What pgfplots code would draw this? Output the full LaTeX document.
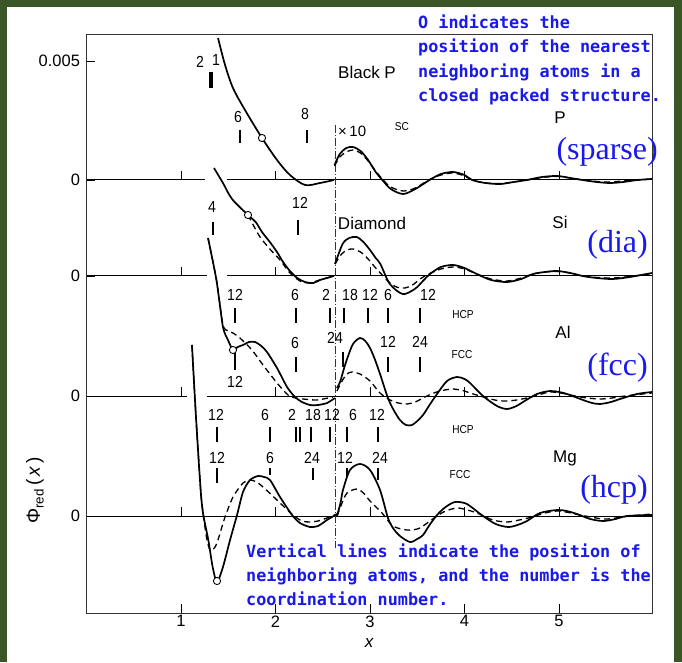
\documentclass[border=0pt]{standalone}
\usepackage{fontspec}
\setmainfont{Liberation Sans}
\newfontfamily\monof{DejaVu Sans Mono}
\newfontfamily\seriff{Liberation Serif}
\newfontfamily\labf[FakeStretch=0.88]{Liberation Sans}
\usepackage{pgfplots}
\pgfplotsset{compat=1.18}
\definecolor{frameg}{RGB}{58,86,38}
\definecolor{ann}{RGB}{25,25,235}
\newcommand{\nf}{\labf\fontsize{16}{16}\selectfont}
\begin{document}
\begin{tikzpicture}
\fill[frameg] (0pt,0pt) rectangle (682pt,662pt);
\fill[white] (7pt,0pt) rectangle (674pt,655pt);
\useasboundingbox (0pt,0pt) rectangle (682pt,662pt);
\begin{axis}[
  at={(86.5pt,49pt)}, anchor=south west,
  scale only axis, width=565.5pt, height=579pt,
  xmin=0, xmax=5.984, ymin=49, ymax=628,
  clip=false,
  axis line style={line width=0.9pt, black!80},
  xtick={1,2,3,4,5}, xticklabels={1,2,3,4,5},
  ytick={146,266,386,482,601}, yticklabels={0,0,0,0,0.005},
  xtick pos=bottom, ytick pos=left,
  tick align=inside, major tick length=9pt,
  tick style={line width=0.9pt, black},
  ticklabel style={font=\fontsize{16.5}{16.5}\selectfont},
  xticklabel style={yshift=1pt},
  yticklabel style={xshift=-3pt},
  xlabel={\textit{x}}, xlabel style={font=\fontsize{17}{17}\selectfont, yshift=-4pt},
  ylabel={Φ\textsubscript{red}\,(\,\textit{x}\,)},
  ylabel style={at={(axis description cs:-0.091,0.212)}, anchor=center, font=\fontsize{19}{19}\selectfont},
  unbounded coords=jump,
]
% baselines
\addplot[black, line width=1pt] coordinates {(0,482) (1.254,482) (1.3,nan) (1.487,482) (5.984,482)};
\addplot[black, line width=1pt] coordinates {(0,386) (1.275,386) (1.3,nan) (1.487,386) (5.984,386)};
\addplot[black, line width=1pt] coordinates {(0,266) (1.063,266) (1.1,nan) (1.275,266) (5.984,266)};
\addplot[black, line width=1pt] coordinates {(0,146) (5.984,146)};
% baseline ticks
\addplot[black, line width=0.8pt] coordinates {
(1,482) (1,491) (1,nan) (2,482) (2,491) (2,nan) (3,482) (3,491) (3,nan) (4,482) (4,491) (4,nan) (5,482) (5,491) (5,nan)
(1,386) (1,395) (1,nan) (2,386) (2,395) (2,nan) (3,386) (3,395) (3,nan) (4,386) (4,395) (4,nan) (5,386) (5,395) (5,nan)
(1,266) (1,275) (1,nan) (2,266) (2,275) (2,nan) (3,266) (3,275) (3,nan) (4,266) (4,275) (4,nan) (5,266) (5,275) (5,nan)
(1,146) (1,155) (1,nan) (2,146) (2,155) (2,nan) (3,146) (3,155) (3,nan) (4,146) (4,155) (4,nan) (5,146) (5,155)};
% x10 boundary
\addplot[black!80, line width=0.6pt, dash pattern=on 8pt off 2pt on 1pt off 2pt] coordinates {(2.63,537) (2.63,114)};
% ---- P ----
\addplot[black, line width=1.7pt, smooth, tension=0.5] coordinates {
(1.392,624) (1.466,597) (1.550,574) (1.677,552) (1.857,524) (2.016,502) (2.153,487) (2.312,477) (2.471,479) (2.619,482)};
\addplot[black, line width=1.7pt, smooth, tension=0.5] coordinates {
(2.625,497) (2.68,508) (2.75,514) (2.82,515) (2.90,511) (2.98,502) (3.06,490) (3.13,482) (3.22,473) (3.35,468) (3.48,473) (3.63,482) (3.75,488) (3.88,490) (4.00,487) (4.08,482) (4.22,479) (4.38,478) (4.52,480) (4.66,482) (4.82,485) (4.98,486) (5.12,484) (5.25,482) (5.40,480) (5.54,479) (5.68,480) (5.83,482) (5.984,483)};
\addplot[black, line width=1.3pt, smooth, tension=0.5, dash pattern=on 6pt off 4pt] coordinates {
(2.625,496) (2.68,505) (2.75,510) (2.82,512) (2.90,509) (2.98,501) (3.06,491) (3.14,482) (3.22,475) (3.35,471) (3.48,474) (3.62,482) (3.75,487) (3.88,489) (4.00,486) (4.08,482) (4.22,479) (4.38,478.5) (4.52,480) (4.66,482) (4.82,484.5) (4.98,485.5) (5.12,484) (5.25,482) (5.40,480.5) (5.54,480) (5.68,481) (5.83,482) (5.984,483)};
% ---- Si ----
\addplot[black, line width=1.7pt, smooth, tension=0.5] coordinates {
(1.349,494) (1.444,479) (1.540,463) (1.709,447) (1.79,440) (1.857,430) (1.94,420) (2.016,410) (2.08,400) (2.153,391) (2.23,384) (2.312,380) (2.40,379) (2.471,382) (2.619,386)};
\addplot[black, line width=1.3pt, smooth, tension=0.5, dash pattern=on 6pt off 4pt] coordinates {
(1.709,447) (1.77,436) (1.836,425) (1.94,413) (2.048,402) (2.153,389) (2.26,381) (2.35,379) (2.47,382) (2.619,386)};
\addplot[black, line width=1.7pt, smooth, tension=0.5] coordinates {
(2.63,398) (2.71,418) (2.78,424) (2.86,425) (2.93,420) (3.00,412) (3.06,404) (3.11,398) (3.19,381) (3.25,374) (3.32,369) (3.37,368) (3.44,371) (3.50,375) (3.57,382) (3.635,388) (3.75,395) (3.88,397) (4.00,394) (4.13,388) (4.28,382) (4.45,380) (4.60,383) (4.725,388) (4.85,390) (4.98,391) (5.12,389) (5.25,386) (5.40,384) (5.57,383) (5.75,385) (5.984,389)};
\addplot[black, line width=1.3pt, smooth, tension=0.5, dash pattern=on 6pt off 4pt] coordinates {
(2.63,398) (2.70,408) (2.76,412) (2.82,413) (2.90,410) (2.98,403) (3.06,394) (3.13,387) (3.20,380) (3.28,375) (3.37,374) (3.45,377) (3.53,383) (3.62,388) (3.75,393) (3.88,395) (4.00,393) (4.13,388) (4.28,383) (4.45,381) (4.60,384) (4.725,388) (4.85,390) (4.98,390.5) (5.12,389) (5.25,386) (5.40,384.5) (5.57,384) (5.75,385.5) (5.984,388.5)};
% ---- Al ----
\addplot[black, line width=1.7pt, smooth, tension=0.4] coordinates {
(1.286,424) (1.375,382) (1.444,335) (1.497,322) (1.550,312) (1.60,315) (1.656,317) (1.72,320) (1.783,320) (1.850,316) (1.910,310) (2.016,294) (2.122,275) (2.206,265) (2.280,260) (2.365,257) (2.450,257) (2.545,259) (2.630,264)};
\addplot[black, line width=1.3pt, smooth, tension=0.4, dash pattern=on 6pt off 4pt] coordinates {
(1.286,424) (1.375,382) (1.444,337) (1.50,331) (1.55,329) (1.624,324) (1.751,312) (1.868,297) (2.016,279) (2.132,267) (2.211,264) (2.291,263) (2.439,262) (2.608,265)};
\addplot[black, line width=1.7pt, smooth, tension=0.5] coordinates {
(2.650,274) (2.683,280) (2.720,292) (2.757,303) (2.820,318) (2.894,324) (2.95,321) (3.0,314) (3.05,303) (3.106,288) (3.190,264) (3.25,252) (3.317,242) (3.380,237) (3.444,237) (3.50,241) (3.561,247) (3.63,257) (3.709,268) (3.815,281) (3.921,285) (4.0,283) (4.058,279) (4.196,266) (4.344,256) (4.450,253) (4.55,256) (4.619,260) (4.767,268) (4.905,271) (5.0,270) (5.085,268) (5.254,262) (5.35,259) (5.434,258) (5.55,260) (5.646,263) (5.825,268) (5.984,270)};
\addplot[black, line width=1.3pt, smooth, tension=0.5, dash pattern=on 6pt off 4pt] coordinates {
(2.650,271) (2.710,282) (2.757,288) (2.810,290) (2.894,288) (3.0,281) (3.106,269) (3.212,262) (3.30,259) (3.392,258) (3.48,260) (3.561,264) (3.65,268) (3.741,271) (3.878,273) (4.0,271) (4.058,269) (4.238,264) (4.35,261.5) (4.450,261) (4.55,262) (4.661,264) (4.78,267) (4.905,270) (5.05,268.5) (5.169,266) (5.30,264) (5.434,263) (5.56,264) (5.698,266) (5.984,269)};
% ---- Mg ----
\addplot[black, line width=1.7pt, smooth, tension=0.45] coordinates {
(1.116,317) (1.148,262) (1.180,212) (1.212,167) (1.236,147) (1.289,122) (1.335,95) (1.381,80) (1.444,95) (1.519,122) (1.593,147) (1.656,170) (1.730,182) (1.815,186) (1.880,185) (1.942,182) (2.048,165) (2.175,147) (2.259,139) (2.365,135) (2.450,136) (2.545,142) (2.651,148)};
\addplot[black, line width=1.3pt, smooth, tension=0.45, dash pattern=on 6pt off 4pt] coordinates {
(1.116,317) (1.148,262) (1.180,212) (1.212,167) (1.236,147) (1.275,122) (1.307,112) (1.345,113) (1.381,119) (1.420,131) (1.466,145) (1.550,165) (1.656,179) (1.730,182) (1.80,180) (1.868,175) (1.96,167) (2.048,159) (2.185,147) (2.280,141) (2.365,140) (2.450,141) (2.545,144) (2.651,148)};
\addplot[black, line width=1.7pt, smooth, tension=0.5] coordinates {
(2.651,146) (2.690,160) (2.714,172) (2.788,192) (2.894,198) (3.0,192) (3.106,172) (3.190,144) (3.25,133) (3.317,126) (3.423,120) (3.50,123) (3.561,127) (3.63,137) (3.709,147) (3.80,155) (3.899,160) (4.0,159) (4.058,156) (4.196,146) (4.33,138) (4.460,135) (4.56,137) (4.661,141) (4.799,149) (4.979,152) (5.08,151) (5.190,148) (5.33,143) (5.466,141) (5.60,143) (5.720,146) (5.984,147)};
\addplot[black, line width=1.3pt, smooth, tension=0.5, dash pattern=on 6pt off 4pt] coordinates {
(2.651,146) (2.70,158) (2.757,169) (2.862,173) (2.93,169) (3.0,161) (3.127,149) (3.243,136) (3.392,132) (3.50,133) (3.561,136) (3.709,146) (3.80,151) (3.921,154) (4.03,152) (4.132,149) (4.30,142) (4.450,140) (4.58,142) (4.714,145) (4.85,149) (4.979,151) (5.1,149.5) (5.222,147) (5.466,143) (5.60,144) (5.751,146) (5.984,148)};
% neighbour bars
\addplot[black, line width=3.5pt] coordinates {(1.317,590) (1.317,574)};
\addplot[black, line width=1.8pt] coordinates {
(1.624,532) (1.624,519) (1.624,nan) (2.333,532) (2.333,519) (2.333,nan)
(1.339,440) (1.339,427) (1.339,nan) (2.238,442) (2.238,427) (2.238,nan)
(1.571,354) (1.571,339) (1.571,nan) (2.217,354) (2.217,339) (2.217,nan) (2.577,354) (2.577,339) (2.577,nan) (2.725,354) (2.725,339) (2.725,nan) (2.979,354) (2.979,339) (2.979,nan) (3.190,354) (3.190,339) (3.190,nan) (3.529,354) (3.529,339) (3.529,nan)
(1.571,309) (1.571,292) (1.571,nan) (2.217,305) (2.217,290) (2.217,nan) (2.714,310) (2.714,295) (2.714,nan) (3.190,305) (3.190,290) (3.190,nan) (3.529,305) (3.529,290) (3.529,nan)
(1.381,235) (1.381,220) (1.381,nan) (1.942,235) (1.942,220) (1.942,nan) (2.217,235) (2.217,220) (2.217,nan) (2.259,235) (2.259,220) (2.259,nan) (2.376,235) (2.376,220) (2.376,nan) (2.577,235) (2.577,220) (2.577,nan) (2.757,235) (2.757,220) (2.757,nan) (3.085,235) (3.085,220) (3.085,nan)
(1.381,194) (1.381,179) (1.381,nan) (1.942,194) (1.942,187) (1.942,nan) (2.397,194) (2.397,182) (2.397,nan) (2.757,194) (2.757,185) (2.757,nan) (3.085,194) (3.085,182)};
% circles: nearest neighbours in close packed structure
\addplot[only marks, mark=*, mark size=3.6pt, mark options={fill=white, draw=black, line width=0.9pt}] coordinates {(1.857,524) (1.709,447) (1.550,312) (1.381,81)};
\end{axis}
\begin{scope}[x=1pt, y=-1pt, shift={(0pt,662pt)}]
\tikzset{num/.style={font=\nf, inner sep=0pt},
 sm/.style={font=\labf\fontsize{11.5}{11.5}\selectfont, inner sep=0pt},
 big/.style={font=\fontsize{17}{17}\selectfont, inner sep=0pt}}
% P
\node[num] at (200,62) {2};
\node[num] at (216,60) {1};
\node[num] at (238,117) {6};
\node[num] at (305,114) {8};
\node[font=\fontsize{15}{15}\selectfont, inner sep=0pt, anchor=west] at (338,131) {×\,10};
\node[big] at (367,72) {Black P};
\node[sm] at (402,127) {SC};
\node[big] at (560,118) {P};
% Si
\node[num] at (212,207) {4};
\node[num] at (300,203) {12};
\node[big] at (372,223) {Diamond};
\node[big] at (560,222) {Si};
% Al
\node[num] at (235,295) {12};
\node[num] at (295,295) {6};
\node[num] at (326,295) {2};
\node[num] at (350,295) {18};
\node[num] at (370,295) {12};
\node[num] at (388,295) {6};
\node[num] at (428,295) {12};
\node[sm] at (463,315) {HCP};
\node[num] at (235,382) {12};
\node[num] at (295,343) {6};
\node[num] at (335,338) {24};
\node[num] at (388,342) {12};
\node[num] at (420,342) {24};
\node[sm] at (462,355) {FCC};
\node[big] at (563,332) {Al};
% Mg
\node[num] at (216,415) {12};
\node[num] at (265,415) {6};
\node[num] at (292,415) {2};
\node[num] at (313,415) {18};
\node[num] at (332,415) {12};
\node[num] at (353,415) {6};
\node[num] at (377,415) {12};
\node[sm] at (463,430) {HCP};
\node[num] at (217,458) {12};
\node[num] at (270,458) {6};
\node[num] at (312,458) {24};
\node[num] at (345,458) {12};
\node[num] at (380,458) {24};
\node[sm] at (460,475) {FCC};
\node[big] at (565,458) {Mg};
% blue serif labels
\tikzset{bs/.style={font=\seriff\fontsize{32}{32}\selectfont, text=ann, anchor=east, inner sep=0pt}}
\node[bs] at (658,152) {(sparse)};
\node[bs] at (648,245) {(dia)};
\node[bs] at (648,368) {(fcc)};
\node[bs] at (648,490) {(hcp)};
% blue notes
\tikzset{bm/.style={font=\monof\bfseries\fontsize{16.8}{16.8}\selectfont, text=ann, anchor=base west, inner sep=0pt}}
\node[bm] at (418,29) {O indicates the};
\node[bm] at (418,53) {position of the nearest};
\node[bm] at (418,78) {neighboring atoms in a};
\node[bm] at (418,102) {closed packed structure.};
\node[bm] at (246,557) {Vertical lines indicate the position of};
\node[bm] at (246,581) {neighboring atoms, and the number is the};
\node[bm] at (246,605) {coordination number.};
\end{scope}
\end{tikzpicture}
\end{document}
